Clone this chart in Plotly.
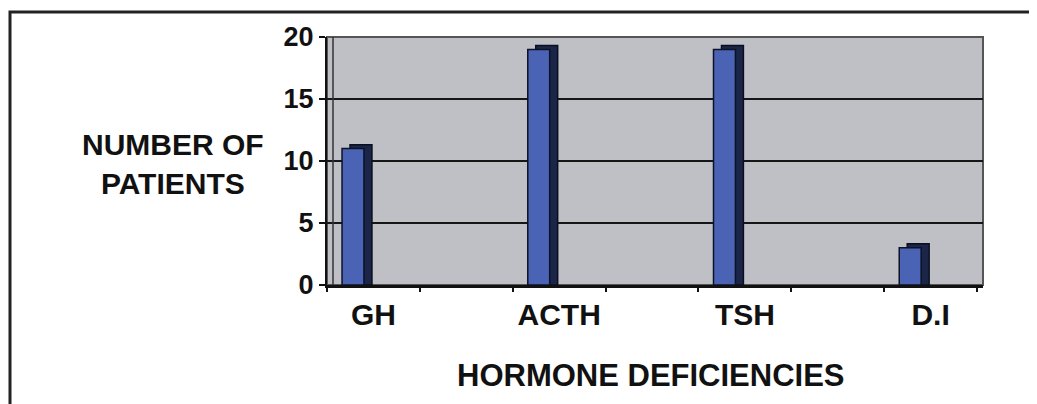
import plotly.graph_objects as go

categories = ["GH", "ACTH", "TSH", "D.I"]
patients = [11, 19, 19, 3]
y_ticks = [0, 5, 10, 15, 20]

OFF = 8  # page body margin
W, H = 1037 - OFF, 404 - OFF
L, T = 327 - OFF, 37 - OFF
R, B = W - (983 - OFF), H - (285 - OFF)
pw, ph = W - L - R, H - T - B


def px_x(px):
    return (px - OFF - L) / pw


def px_y(py):
    return (T + ph - (py - OFF)) / ph


depth_y = 0.32  # data units of pseudo-3D depth

fig = go.Figure()
# pseudo-3D depth (top + side)
fig.add_trace(go.Bar(
    x=categories, y=[v + depth_y for v in patients], base=0,
    offset=-0.126, width=0.118,
    marker=dict(color="#1b2548", line=dict(color="#0a0f1f", width=1.5)),
    hoverinfo="skip", showlegend=False))
# front face
fig.add_trace(go.Bar(
    x=categories, y=patients,
    offset=-0.169, width=0.118,
    marker=dict(color="#4a63b4", line=dict(color="#0d1226", width=1.5)),
    showlegend=False))
# invisible trace to hold tick-mark axis
fig.add_trace(go.Scatter(x=[0], y=[0], xaxis="x2", mode="markers",
                         marker=dict(opacity=0), hoverinfo="skip", showlegend=False))

font = "Liberation Sans, Arial, sans-serif"

fig.update_layout(
    width=W, height=H,
    margin=dict(l=L, r=R, t=T, b=B, autoexpand=False),
    paper_bgcolor="white",
    plot_bgcolor="#bfbfc6",
    barmode="overlay",
    xaxis=dict(
        type="category", range=[-0.25, 3.282], automargin=False,
        showgrid=False, showline=True, linecolor="#111", linewidth=3,
        ticks="", tickfont=dict(family=font, size=30, color="#111", weight="bold"),
        ticklabelstandoff=1, fixedrange=True),
    xaxis2=dict(
        overlaying="x", range=[0, 7.065], tickvals=list(range(8)),
        showticklabels=False, ticks="outside", ticklen=6, tickwidth=2,
        tickcolor="#111", showgrid=False, showline=False, side="bottom",
        zeroline=False, automargin=False),
    yaxis=dict(
        range=[0, 20], tickvals=y_ticks, automargin=False,
        showline=True, linecolor="#111", linewidth=2,
        ticks="outside", ticklen=6, tickwidth=2, tickcolor="#111",
        showgrid=True, gridcolor="#161616", gridwidth=2,
        zeroline=False,
        tickfont=dict(family=font, size=27, color="#111", weight="bold"),
        ticklabelstandoff=0),
    shapes=[
        # wall border
        dict(type="rect", xref="paper", yref="paper", x0=0, x1=1, y0=0, y1=1,
             line=dict(color="#555", width=2), layer="below"),
        # wall thickness line
        dict(type="line", xref="paper", yref="paper", x0=px_x(333), x1=px_x(333),
             y0=0, y1=1, line=dict(color="#333", width=1.5)),
        # outer frame
        dict(type="rect", xref="paper", yref="paper",
             x0=px_x(10), x1=px_x(1080), y0=px_y(440), y1=px_y(12),
             line=dict(color="#222", width=3), layer="below"),
    ],
    annotations=[
        dict(text="<b>NUMBER OF<br>PATIENTS</b>", xref="paper", yref="paper",
             x=px_x(173), y=px_y(164), xanchor="center", yanchor="middle",
             showarrow=False, font=dict(family=font, size=30, color="#111"),
             align="center"),
        dict(text="<b>HORMONE DEFICIENCIES</b>", xref="paper", yref="paper",
             x=px_x(651), y=px_y(375), xanchor="center", yanchor="middle",
             showarrow=False, font=dict(family=font, size=31, color="#111"),
             align="center"),
    ],
)

fig.write_html("out.html")
